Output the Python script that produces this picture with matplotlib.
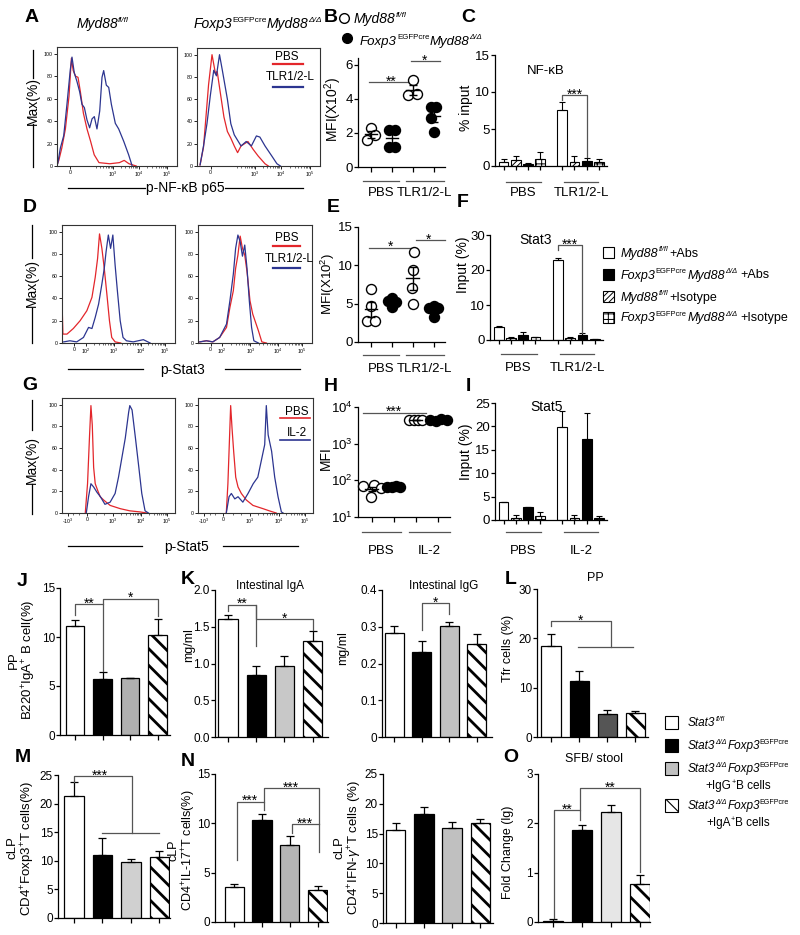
import numpy as np
import matplotlib
matplotlib.use('Agg')
import matplotlib.pyplot as plt
from matplotlib.lines import Line2D
from matplotlib.patches import Rectangle
from matplotlib.transforms import blended_transform_factory as blend

plt.rcParams['font.family'] = ['Liberation Sans', 'DejaVu Sans']
plt.rcParams['mathtext.fontset'] = 'custom'
plt.rcParams['mathtext.rm'] = 'Liberation Sans'
plt.rcParams['mathtext.it'] = 'Liberation Sans:italic'
plt.rcParams['mathtext.bf'] = 'Liberation Sans:bold'
plt.rcParams['mathtext.sf'] = 'Liberation Sans'
plt.rcParams['axes.linewidth'] = 0.9
plt.rcParams['hatch.linewidth'] = 2.0

# ------------------------------------------------------------------ data
# flow histograms: channel (0-100 display units) and % of max
A1_red_ch = [0, 1.5, 4, 7, 10, 12, 13.5, 15.5, 17.5, 19.5, 22, 25, 28, 31, 35, 44, 52, 56, 60, 66]
A1_red = [1, 5, 16, 33, 62, 96, 85, 80, 79, 66, 47, 33, 22, 10, 3, 2, 3, 5, 2, 0]
A1_blue_ch = [0, 0.6, 2.8, 5.6, 8.3, 11.1, 12.5, 14.4, 16.7, 18.9, 20.8, 22.8, 25, 27.2, 29.2, 31.1,
              33.3, 35.6, 37.5, 38.9, 41.1, 43.1, 45.3, 48.6, 51.4, 55.6, 59.7, 62.5]
A1_blue = [1, 2, 16, 27, 55, 86, 97, 83, 75, 66, 55, 52, 41, 34, 42, 44, 33, 49, 79, 85, 72, 70, 55,
           38, 33, 22, 10, 0.5]
A2_red_ch = [2.5, 5.3, 9.4, 12.2, 15, 16.4, 19.2, 21.9, 24.7, 27.5, 30.3, 33, 35.8, 41.4, 45.6, 49.7, 55.3, 58]
A2_red = [1, 17, 73, 100, 83, 85, 64, 44, 31, 25, 18, 12, 18, 22, 15, 9, 2, 0]
A2_blue_ch = [2.5, 5.3, 8.1, 10.8, 13.6, 15.8, 18.3, 20.6, 24.7, 27.5, 30.3, 35.8, 40, 44.2, 48.3, 51.1,
              55.3, 60.8, 65, 67.8]
A2_blue = [1, 18, 38, 63, 86, 81, 100, 86, 60, 38, 28, 18, 22, 18, 27, 26, 18, 9, 2, 0]

D1_red_ch = [0, 0.3, 0.8, 4.4, 10, 16, 22, 26.5, 29.4, 31.5, 33.2, 35.3, 37.4, 39.7, 42, 44, 47, 52]
D1_red = [2, 27, 8, 8, 13, 20, 29, 41, 59, 76, 98, 85, 67, 44, 20, 5, 1, 0]
D1_blue_ch = [1.5, 7, 13, 19, 23.5, 26.5, 29.4, 32.4, 35.3, 37.4, 39, 41, 43, 45, 47, 49, 51.5, 54, 57,
              63, 72, 78]
D1_blue = [1, 2, 1, 5, 14, 13, 23, 35, 53, 67, 82, 97, 85, 97, 70, 47, 20, 5, 2, 1, 3, 0]
D2_red_ch = [1.5, 7.4, 13, 19, 25, 28, 31, 33, 35, 37, 39, 41, 43, 45.6, 48, 50, 53, 56, 60]
D2_red = [1, 2, 1, 5, 14, 32, 47, 67, 79, 96, 85, 79, 64, 38, 26, 20, 11, 1, 0]
D2_blue_ch = [1.5, 7.4, 13, 19, 25, 28, 31, 33, 35, 37, 39, 41, 43, 45, 47, 49, 53]
D2_blue = [1, 2, 1, 5, 17, 38, 62, 85, 97, 91, 78, 88, 67, 38, 14, 2, 0]

G1_red_ch = [20.6, 22.6, 24.4, 25.6, 26.8, 28, 29.4, 31.5, 33.8, 36.8, 42.6, 51.5, 60, 69, 75]
G1_red = [0, 27, 72, 99, 81, 42, 27, 21, 15, 12, 7, 4, 2, 1, 0]
G1_blue_ch = [21.5, 23.5, 25.6, 28, 31, 34, 38, 42.6, 47, 50, 53, 56, 59, 60, 62, 65, 68, 70.6, 73.5, 76.5]
G1_blue = [0, 15, 27, 24, 19, 15, 8, 10, 18, 33, 51, 69, 93, 99, 95, 69, 42, 18, 2, 0]
G2_red_ch = [24.6, 26, 27.5, 28.4, 29.6, 31, 32.8, 34.8, 37.7, 42, 47.8, 56.5, 62, 68]
G2_red = [0, 27, 72, 99, 78, 57, 33, 24, 18, 12, 7, 4, 2, 0]
G2_blue_ch = [24.6, 27, 29, 32, 34.8, 39, 43.5, 48, 52, 55, 58, 59.4, 61, 64, 66.7, 69.6, 72.5, 74]
G2_blue = [0, 15, 18, 13, 15, 10, 18, 27, 33, 48, 63, 99, 72, 57, 33, 15, 1, 0]

A_ticklabels = ['0', '10$^3$', '10$^4$', '10$^5$']
D_ticklabels = ['0', '10$^2$', '10$^3$', '10$^4$', '10$^5$']
G_ticklabels = ['-10$^3$', '0', '10$^3$', '10$^4$', '10$^5$']

# MFI scatter (B: x10^2, E: x10^2, H: raw)
B_wt_pbs = [1.6, 2.3, 1.9]
B_ko_pbs = [2.2, 2.2, 1.2, 1.2]
B_wt_tlr = [5.1, 4.2, 4.3]
B_ko_tlr = [3.5, 3.5, 2.9, 2.05]
E_wt_pbs = [6.9, 4.7, 2.7, 2.7]
E_ko_pbs = [5.4, 5.7, 5.2, 4.5]
E_wt_tlr = [11.8, 9.4, 7.0, 5.0]
E_ko_tlr = [4.4, 4.7, 4.4, 3.3]
H_wt_pbs = [69, 35, 73, 60]
H_ko_pbs = [66, 66, 68, 66]
H_wt_il2 = [4300, 4400, 4500, 4300]
H_ko_il2 = [4400, 4200, 4600, 4500]
row_groups_tlr = ['PBS', 'TLR1/2-L']
row_groups_il2 = ['PBS', 'IL-2']

# ChIP bars, order per group: Myd88fl/fl+Abs, Myd88fl/fl+Isotype, KO+Abs, KO+Isotype
C_vals = [0.5, 0.8, 0.3, 0.9, 7.6, 0.6, 0.7, 0.5]
C_sem = [0.5, 0.5, 0.15, 1.0, 1.1, 0.7, 0.4, 0.5]
F_vals = [3.8, 0.5, 1.3, 0.8, 23.0, 0.5, 1.3, 0.3]
F_sem = [0.3, 0.4, 1.0, 0.2, 0.3, 0.4, 0.7, 0.1]
I_vals = [3.8, 0.5, 2.7, 0.8, 19.8, 0.5, 17.3, 0.4]
I_sem = [0.1, 0.5, 0.1, 1.0, 3.4, 0.6, 5.5, 0.5]

# Stat3 panels J-O: Stat3fl/fl, Stat3 KO, KO+IgG B, KO+IgA B
J_vals = [11.1, 5.7, 5.8, 10.2]
J_sem = [0.6, 0.7, 0.05, 1.6]
K_iga = [1.6, 0.84, 0.97, 1.31]
K_iga_sem = [0.06, 0.13, 0.13, 0.13]
K_igg = [0.283, 0.232, 0.302, 0.253]
K_igg_sem = [0.02, 0.028, 0.011, 0.027]
L_vals = [18.4, 11.3, 4.6, 4.9]
L_sem = [2.4, 2.0, 0.8, 0.4]
M_vals = [21.4, 11.0, 9.8, 10.7]
M_sem = [2.3, 3.0, 0.6, 1.1]
N_il17 = [3.5, 10.3, 7.8, 3.2]
N_il17_sem = [0.35, 0.6, 0.9, 0.4]
N_ifng = [15.6, 18.3, 15.9, 16.8]
N_ifng_sem = [1.1, 1.1, 1.0, 0.7]
O_vals = [0.02, 1.86, 2.22, 0.78]
O_sem = [0.05, 0.1, 0.15, 0.18]

# ------------------------------------------------------------------ helpers
W, H = 800, 935
fig = plt.figure(figsize=(W / 100, H / 100), dpi=100)
REND = fig.canvas.get_renderer()


def fx(x):
    return x / W


def fy(y):
    return 1 - y / H


def add_ax(x0, y0, x1, y1):
    return fig.add_axes([fx(x0), fy(y1), (x1 - x0) / W, (y1 - y0) / H])


def ftext(x, y, s, **kw):
    kw.setdefault('ha', 'center')
    kw.setdefault('va', 'center')
    return fig.text(fx(x), fy(y), s, **kw)


def fline(x0, y0, x1, y1, color='k', lw=0.9):
    fig.add_artist(Line2D([fx(x0), fx(x1)], [fy(y0), fy(y1)], color=color, lw=lw,
                          transform=fig.transFigure))


def rich(x, yc, parts, size, ha='left'):
    """Sequential text runs; kinds: it, rm, sit (superscript italic), srm (superscript roman)."""
    base = yc + 0.36 * size * 100 / 72
    arts, cur = [], 0.0
    for s, kind in parts:
        if isinstance(s, (int, float)):
            cur += s
            continue
        sup = kind.startswith('s')
        fs = size * 0.6 if sup else size
        st = 'italic' if kind.endswith('it') else 'normal'
        dy = 0.42 * size * 100 / 72 if sup else 0
        t = fig.text(0, fy(base - dy), s, fontsize=fs, style=st, ha='left', va='baseline')
        w = t.get_window_extent(REND).width
        arts.append((t, cur))
        cur += w + (0.5 if sup else 0)
    x0 = x - cur / 2 if ha == 'center' else x
    for t, off in arts:
        t.set_x(fx(x0 + off))


def letter(x, y, s):
    ftext(x, y, s, fontsize=14, fontweight='bold')


def set_hlw(container, lw):
    for p in container.patches:
        if hasattr(p, 'set_hatch_linewidth'):
            p.set_hatch_linewidth(lw)


def decade_minors(pairs):
    out = []
    for a, b in pairs:
        out += [a + (b - a) * np.log10(k) for k in range(2, 10)]
    return out


RED = '#e3262b'
BLUE = '#2c3590'


def hist_panel(box, curves, ticks, labels, minors):
    ax = add_ax(*box)
    for ch, pct, col in curves:
        ax.plot(ch, pct, color=col, lw=0.9)
    ax.set_xlim(0, 100)
    ax.set_ylim(0, 106)
    ax.set_yticks([0, 20, 40, 60, 80, 100])
    ax.set_xticks(ticks)
    ax.set_xticklabels(labels)
    ax.set_xticks(minors, minor=True)
    ax.tick_params(labelsize=3.8, length=2, width=0.6, pad=1)
    ax.tick_params(which='minor', length=1.2, width=0.4)
    for s in ax.spines.values():
        s.set_linewidth(0.8)
        s.set_color('#333333')
    return ax


def graphpad(ax, xlim, ylim, yticks, ytl=None, fs=9):
    ax.set_xlim(*xlim)
    ax.set_ylim(*ylim)
    for s in ['top', 'right']:
        ax.spines[s].set_visible(False)
    ax.set_yticks(yticks)
    if ytl is not None:
        ax.set_yticklabels(ytl)
    ax.tick_params(axis='y', labelsize=fs, length=3, width=0.9, pad=0.6)
    ax.tick_params(axis='x', length=3.5, width=0.9, labelbottom=False)
    ax.patch.set_alpha(0)


def group_labels(ax, spans, labels, yline, ytext, fs=9.5):
    tr = blend(ax.transData, fig.transFigure)
    for (a, b), lab in zip(spans, labels):
        ax.plot([a, b], [fy(yline), fy(yline)], color='#555555', lw=0.9, transform=tr, clip_on=False)
        ax.text((a + b) / 2, fy(ytext), lab, transform=tr, ha='center', va='center', fontsize=fs)


def bracket(ax, x1, x2, y, yl, yr, txt, fs=10, tx=None):
    ax.plot([x1, x1, x2, x2], [yl, y, y, yr], color='#555555', lw=0.9, clip_on=False, zorder=5)
    if txt:
        ax.annotate(txt, ((x1 + x2) / 2 if tx is None else tx, y), xytext=(0, -2.5),
                    textcoords='offset points', ha='center', va='baseline', fontsize=fs)


def sigline(ax, x1, x2, y, txt, fs=10, tx=None):
    ax.plot([x1, x2], [y, y], color='#555555', lw=0.9, clip_on=False)
    ax.annotate(txt, ((x1 + x2) / 2 if tx is None else tx, y), xytext=(0, -2.5),
                textcoords='offset points', ha='center', va='baseline', fontsize=fs)


def scatter_panel(box, groups, ylim, yticks, ytl, log=False):
    ax = add_ax(*box)
    if log:
        ax.set_yscale('log')
    for gi, (vals, offs, filled) in enumerate(groups):
        vals = np.asarray(vals, float)
        ax.plot(gi + np.asarray(offs), vals, 'o', ms=7.2, mfc='k' if filled else 'white',
                mec='k', mew=1.0, clip_on=False, zorder=3)
        m = vals.mean()
        se = vals.std(ddof=1) / np.sqrt(len(vals))
        ax.plot([gi - 0.3, gi + 0.3], [m, m], color='k', lw=1.0, zorder=4)
        ax.errorbar(gi, m, yerr=se, fmt='none', ecolor='k', elinewidth=1.0, capsize=3, capthick=1.0,
                    zorder=4)
    graphpad(ax, (-0.62, 3.55), ylim, yticks, ytl, fs=9.5)
    if log:
        ax.minorticks_off()
    ax.set_xticks(range(4))
    return ax


CHIP_POS = [0, 1, 2, 3, 4.83, 5.83, 6.83, 7.83]
CHIP_FACE = ['white', 'white', 'black', 'white'] * 2
CHIP_HATCH = [None, '//////', None, '+++'] * 2


def chip_panel(box, vals, sems, ylim, yticks):
    ax = add_ax(*box)
    for x, v, e, fc, h in zip(CHIP_POS, vals, sems, CHIP_FACE, CHIP_HATCH):
        with plt.rc_context({'hatch.linewidth': 0.7}):
            bc = ax.bar(x, v, 0.8, color=fc, edgecolor='black', linewidth=0.8, hatch=h, zorder=2)
        set_hlw(bc, 0.7)
        ax.errorbar(x, v, yerr=[[0], [e]], fmt='none', ecolor='k', elinewidth=0.8, capsize=2.5,
                    capthick=0.8, zorder=3)
    graphpad(ax, (-0.7, 8.5), ylim, yticks, fs=9.5)
    ax.set_xticks(CHIP_POS)
    ax.tick_params(axis='x', length=3)
    return ax


BAR_HATCH = [None, None, None, '\\\\']


def bar4(box, vals, sems, ylim, yticks, ytl, gray, xlim=(-0.55, 3.45), width=0.68):
    ax = add_ax(*box)
    faces = ['white', 'black', gray, 'white']
    for x, v, e, fc, h in zip(range(4), vals, sems, faces, BAR_HATCH):
        with plt.rc_context({'hatch.linewidth': 2.0}):
            bc = ax.bar(x, v, width, color=fc, edgecolor='black', linewidth=0.9, hatch=h, zorder=2)
        set_hlw(bc, 2.0)
        ax.errorbar(x, v, yerr=[[0], [e]], fmt='none', ecolor='k', elinewidth=0.9, capsize=3.2,
                    capthick=0.9, zorder=3)
    graphpad(ax, xlim, ylim, yticks, ytl, fs=8.5)
    ax.set_xticks(range(4))
    return ax


MYD_WT = [('Myd88', 'it'), ('fl/fl', 'sit')]
MYD_KO = [('Foxp3', 'it'), ('EGFPcre', 'srm'), ('Myd88', 'it'), ('Δ/Δ', 'sit')]
STAT_KO = [('Stat3', 'it'), ('Δ/Δ', 'sit'), ('Foxp3', 'it'), ('EGFPcre', 'srm')]

# ------------------------------------------------------------------ row 1: A B C
letter(32, 18, 'A')
rich(103, 23, MYD_WT, 10, ha='center')
rich(258, 23, MYD_KO, 10, ha='center')
A_ticks = [11, 47, 68, 92]
A_min = decade_minors([(26, 47), (47, 68), (68, 92)])
hist_panel((57, 47, 177, 166), [(A1_red_ch, A1_red, RED), (A1_blue_ch, A1_blue, BLUE)],
           A_ticks, A_ticklabels, A_min)
hist_panel((197, 48, 320, 166), [(A2_red_ch, A2_red, RED), (A2_blue_ch, A2_blue, BLUE)],
           A_ticks, A_ticklabels, A_min)
ftext(287, 57, 'PBS', fontsize=8.5)
fline(273, 64, 303, 64, RED, 1.6)
ftext(290, 77, 'TLR1/2-L', fontsize=8.5)
fline(273, 87, 303, 87, BLUE, 1.6)
ftext(33, 101, 'Max(%)', fontsize=10, rotation=90)
fline(33, 50, 33, 78)
fline(33, 124, 33, 167)
ftext(185, 188, 'p-NF-κB p65', fontsize=10)
fline(68, 188, 145, 188)
fline(225, 188, 303, 188)

letter(331, 18, 'B')
fig.add_artist(Line2D([fx(344)], [fy(18)], marker='o', ms=7, mfc='white', mec='k', mew=1,
                      transform=fig.transFigure))
rich(354, 18, MYD_WT, 10)
fig.add_artist(Line2D([fx(347)], [fy(38)], marker='o', ms=7, mfc='k', mec='k', mew=1,
                      transform=fig.transFigure))
rich(360, 40, MYD_KO, 9.5)
axB = scatter_panel((358, 58, 445, 167),
                    [(B_wt_pbs, [-0.2, 0.0, 0.2], False), (B_ko_pbs, [-0.15, 0.15, -0.15, 0.15], True),
                     (B_wt_tlr, [0.0, -0.2, 0.2], False), (B_ko_tlr, [-0.12, 0.12, -0.1, 0.0], True)],
                    (0, 6.4), [0, 2, 4, 6], None)
sigline(axB, -0.1, 2.0, 5.0, '**', tx=0.95)
sigline(axB, 1.9, 3.3, 6.2, '*', tx=2.55)
ftext(333, 110, 'MFI(X10$^2$)', fontsize=10, rotation=90)
group_labels(axB, [(-0.38, 1.33), (1.67, 3.48)], row_groups_tlr, 181, 193)

letter(468, 17, 'C')
axC = chip_panel((495, 55, 607, 166), C_vals, C_sem, (0, 15), [0, 5, 10, 15])
axC.text(3.5, 12.8, 'NF-κB', ha='center', va='center', fontsize=9.5)
bracket(axC, 4.83, 6.83, 9.6, 8.9, 1.2, '***')
ftext(466, 108, '% input', fontsize=10, rotation=90)
group_labels(axC, [(0.17, 3.1), (5.0, 7.8)], row_groups_tlr, 182, 193)

# ------------------------------------------------------------------ row 2: D E F
letter(30, 207, 'D')
D_ticks = [11, 21, 46, 70, 91]
D_min = decade_minors([(21, 46), (46, 70), (70, 91)])
hist_panel((62, 225, 175, 343), [(D1_red_ch, D1_red, RED), (D1_blue_ch, D1_blue, BLUE)],
           D_ticks, D_ticklabels, D_min)
hist_panel((198, 225, 312, 343), [(D2_red_ch, D2_red, RED), (D2_blue_ch, D2_blue, BLUE)],
           D_ticks, D_ticklabels, D_min)
ftext(287, 238, 'PBS', fontsize=8.5)
fline(273, 246, 300, 246, RED, 1.6)
ftext(289, 259, 'TLR1/2-L', fontsize=8.5)
fline(273, 268, 300, 268, BLUE, 1.6)
ftext(32, 283, 'Max(%)', fontsize=10, rotation=90)
fline(32, 225, 32, 258)
fline(32, 308, 32, 343)
ftext(183, 370, 'p-Stat3', fontsize=10)
fline(68, 369, 143, 369)
fline(225, 369, 300, 369)

letter(333, 208, 'E')
axE = scatter_panel((358, 227, 445, 342),
                    [(E_wt_pbs, [0.0, 0.0, -0.18, 0.18], False), (E_ko_pbs, [-0.2, 0.0, 0.2, 0.0], True),
                     (E_wt_tlr, [0.05, 0.0, -0.05, 0.0], False), (E_ko_tlr, [-0.2, 0.0, 0.2, 0.0], True)],
                    (0, 15), [0, 5, 10, 15], None)
sigline(axE, -0.1, 2.0, 12.3, '*', tx=0.95)
sigline(axE, 2.14, 3.55, 13.3, '*', tx=2.75)
ftext(328, 284, 'MFI(X10$^2$)', fontsize=9.5, rotation=90)
group_labels(axE, [(-0.38, 1.33), (1.67, 3.48)], row_groups_tlr, 355, 369)

letter(463, 203, 'F')
axF = chip_panel((490, 235, 603, 340), F_vals, F_sem, (0, 30), [0, 10, 20, 30])
axF.text(3.0, 28.5, 'Stat3', ha='center', va='center', fontsize=10)
bracket(axF, 4.83, 6.83, 27.1, 25.7, 2.0, '***')
ftext(463, 265, 'Input (%)', fontsize=10, rotation=90)
group_labels(axF, [(0.17, 3.1), (5.0, 7.8)], row_groups_tlr, 354, 368)

# legend for C/F/I
chip_leg = [('white', None, MYD_WT + [(0.5, None), ('+Abs', 'rm')]),
            ('black', None, MYD_KO + [(3, None), ('+Abs', 'rm')]),
            ('white', '//////', MYD_WT + [(0.5, None), ('+Isotype', 'rm')]),
            ('white', '+++', MYD_KO + [(3, None), ('+Isotype', 'rm')])]
for (fc, h, parts), yy in zip(chip_leg, [252, 274, 296, 317]):
    with plt.rc_context({'hatch.linewidth': 0.7}):
        r = Rectangle((fx(603), fy(yy + 5.5)), 11 / W, 11 / H, facecolor=fc, edgecolor='k', lw=0.8,
                      hatch=h, transform=fig.transFigure)
    if hasattr(r, 'set_hatch_linewidth'):
        r.set_hatch_linewidth(0.7)
    fig.add_artist(r)
    rich(621, yy, parts, 9)

# ------------------------------------------------------------------ row 3: G H I
letter(30, 385, 'G')
G_ticks = [5, 22, 45, 70, 93]
G_min = decade_minors([(45, 70), (70, 93)]) + [10, 15, 30, 37]
hist_panel((62, 398, 175, 513), [(G1_red_ch, G1_red, RED), (G1_blue_ch, G1_blue, BLUE)],
           G_ticks, G_ticklabels, G_min)
hist_panel((198, 398, 313, 513), [(G2_red_ch, G2_red, RED), (G2_blue_ch, G2_blue, BLUE)],
           G_ticks, G_ticklabels, G_min)
ftext(297, 412, 'PBS', fontsize=8.5)
fline(280, 418, 310, 418, RED, 1.2)
ftext(297, 433, 'IL-2', fontsize=8.5)
fline(280, 440, 310, 440, BLUE, 1.2)
ftext(32, 460, 'Max(%)', fontsize=10, rotation=90)
fline(32, 400, 32, 430)
fline(32, 484, 32, 514)
ftext(187, 547, 'p-Stat5', fontsize=10)
fline(68, 546, 142, 546)
fline(223, 546, 298, 546)

letter(331, 387, 'H')
axH = scatter_panel((358, 407, 450, 517),
                    [(H_wt_pbs, [-0.4, -0.05, 0.1, 0.4], False),
                     (H_ko_pbs, [-0.3, -0.1, 0.1, 0.3], True),
                     (H_wt_il2, [-0.3, -0.1, 0.1, 0.3], False),
                     (H_ko_il2, [-0.35, -0.1, 0.15, 0.4], True)],
                    (10, 10000), [10, 100, 1000, 10000],
                    ['10$^1$', '10$^2$', '10$^3$', '10$^4$'], log=True)
sigline(axH, -0.4, 2.45, 7000, '***', tx=1.0)
ftext(326, 458, 'MFI', fontsize=10, rotation=90)
group_labels(axH, [(-0.45, 1.33), (1.67, 3.55)], row_groups_il2, 532, 551)

letter(468, 387, 'I')
axI = chip_panel((495, 403, 607, 520), I_vals, I_sem, (0, 25), [0, 5, 10, 15, 20, 25])
axI.text(3.5, 24.2, 'Stat5', ha='center', va='center', fontsize=10)
ftext(466, 452, 'Input (%)', fontsize=10, rotation=90)
group_labels(axI, [(0.17, 3.1), (5.0, 7.8)], row_groups_il2, 532, 551)

# ------------------------------------------------------------------ row 4: J K L
letter(22, 582, 'J')
axJ = bar4((60, 588, 170, 735), J_vals, J_sem, (0, 15), [0, 5, 10, 15], None, '#b0b0b0')
bracket(axJ, 0, 1, 13.35, 12.2, 6.5, '**', fs=10)
bracket(axJ, 1, 3, 13.9, 13.35, 12.1, '*', fs=10)
ftext(23, 660, 'PP\nB220$^{+}$IgA$^{+}$ B cell(%)', fontsize=9.5, rotation=90, multialignment='center',
      linespacing=1.0)

letter(188, 580, 'K')
axK1 = bar4((215, 590, 328, 737), K_iga, K_iga_sem, (0, 2.0), [0, 0.5, 1.0, 1.5, 2.0],
            ['0.0', '0.5', '1.0', '1.5', '2.0'], '#c8c8c8', xlim=(-0.46, 3.54))
bracket(axK1, 0, 1, 1.80, 1.71, 1.24, '**', fs=10)
bracket(axK1, 1, 3, 1.60, 1.80, 1.46, '*', fs=10)
axK1.text(1.5, 2.06, 'Intestinal IgA', ha='center', va='center', fontsize=8.5, clip_on=False)
ftext(189, 645, 'mg/ml', fontsize=9, rotation=90)

axK2 = bar4((382, 590, 492, 737), K_igg, K_igg_sem, (0, 0.4), [0, 0.1, 0.2, 0.3, 0.4],
            ['0', '0.1', '0.2', '0.3', '0.4'], '#c2c2c2', xlim=(-0.44, 3.55))
bracket(axK2, 1, 2, 0.365, 0.29, 0.335, '*', fs=10)
axK2.text(1.8, 0.412, 'Intestinal IgG', ha='center', va='center', fontsize=8.5, clip_on=False)
ftext(343, 648, 'mg/ml', fontsize=9, rotation=90)

letter(511, 580, 'L')
axL = bar4((537, 589, 648, 737), L_vals, L_sem, (0, 30), [0, 10, 20, 30], None, '#555555',
           xlim=(-0.5, 3.46))
bracket(axL, 0, 2.14, 23.5, 22.5, 18.2, '*', fs=10, tx=1.05)
axL.plot([0.96, 2.93], [18.2, 18.2], color='#555555', lw=0.9)
axL.text(1.6, 32.3, 'PP', ha='center', va='center', fontsize=9, clip_on=False)
ftext(508, 648, 'Tfr cells (%)', fontsize=9, rotation=90)

# legend for J-O
stat_leg = [('white', None, [('Stat3', 'it'), ('fl/fl', 'sit')], None, 722),
            ('black', None, STAT_KO, None, 745),
            ('#c0c0c0', None, STAT_KO, [('+IgG', 'rm'), ('+', 'srm'), ('B cells', 'rm')], 768),
            ('white', '\\\\', STAT_KO, [('+IgA', 'rm'), ('+', 'srm'), ('B cells', 'rm')], 805)]
for fc, h, parts, parts2, yy in stat_leg:
    with plt.rc_context({'hatch.linewidth': 0.8}):
        r = Rectangle((fx(665), fy(yy + 7)), 13 / W, 13 / H, facecolor=fc, edgecolor='k', lw=0.8,
                      hatch=h, transform=fig.transFigure)
    if hasattr(r, 'set_hatch_linewidth'):
        r.set_hatch_linewidth(0.8)
    fig.add_artist(r)
    rich(688, yy, parts, 8.5)
    if parts2:
        rich(738, yy + 17, parts2, 8.5, ha='center')

# ------------------------------------------------------------------ row 5: M N O
letter(23, 757, 'M')
axM = bar4((58, 775, 170, 918), M_vals, M_sem, (0, 25), [0, 5, 10, 15, 20, 25], None, '#d0d0d0',
           xlim=(-0.56, 3.37))
bracket(axM, 0, 2.03, 24.8, 23.8, 14.9, '***', fs=10, tx=0.92)
axM.plot([1.0, 3.0], [14.9, 14.9], color='#555555', lw=0.9)
ftext(22, 848, 'cLP\nCD4$^{+}$Foxp3$^{+}$T cells(%)', fontsize=9.5, rotation=90,
      multialignment='center', linespacing=1.0)

letter(188, 762, 'N')
axN1 = bar4((215, 774, 328, 922), N_il17, N_il17_sem, (0, 15), [0, 5, 10, 15], None, '#b5b5b5',
            xlim=(-0.68, 3.36))
bracket(axN1, 0.1, 1.07, 12.2, 6.3, 11.4, '***', fs=10)
bracket(axN1, 1.07, 3.03, 13.6, 12.2, 7.1, '***', fs=10)
bracket(axN1, 2.07, 3.03, 9.9, 9.0, 9.9, '***', fs=10)
ftext(183, 850, 'cLP\nCD4$^{+}$IL-17$^{+}$T cells(%)', fontsize=9, rotation=90,
      multialignment='center', linespacing=1.0)

axN2 = bar4((383, 774, 493, 923), N_ifng, N_ifng_sem, (0, 25), [0, 5, 10, 15, 20, 25], None, '#c0c0c0',
            xlim=(-0.46, 3.46))
ftext(349, 848, 'cLP\nCD4$^{+}$IFN-$\\gamma^{+}$T cells (%)', fontsize=9.5, rotation=90,
      multialignment='center', linespacing=1.0)

letter(511, 757, 'O')
axO = bar4((538, 774, 650, 922), O_vals, O_sem, (0, 3), [0, 1, 2, 3], None, '#e6e6e6',
           xlim=(-0.52, 3.34))
bracket(axO, 0.03, 0.93, 2.27, 0.08, 2.07, '**', fs=10)
bracket(axO, 0.93, 3.0, 2.72, 2.27, 1.01, '**', fs=10)
axO.text(1.4, 3.3, 'SFB/ stool', ha='center', va='center', fontsize=9, clip_on=False)
ftext(508, 852, 'Fold Change (lg)', fontsize=9, rotation=90)

fig.savefig('out.png', dpi=100)
